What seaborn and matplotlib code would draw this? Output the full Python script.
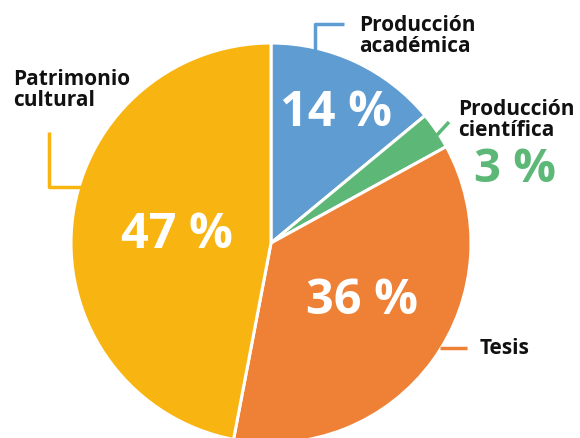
import matplotlib
matplotlib.use("Agg")
import matplotlib.pyplot as plt
import seaborn as sns

sns.set_theme(style="white")
plt.rcParams["font.family"] = ["Open Sans", "DejaVu Sans"]

categories = ["Producción\nacadémica", "Producción\ncientífica", "Tesis", "Patrimonio\ncultural"]
values = [14, 3, 36, 47]
colors = ["#5E9CD2", "#5DB878", "#EF8136", "#F8B512"]

W, H = 580, 439
fig = plt.figure(figsize=(W / 100, H / 100), dpi=100)
ax = fig.add_axes([0, 0, 1, 1])

cx, cy, r = 271, H - 244, 200
ax.pie(values, colors=colors, startangle=90, counterclock=False,
       center=(cx, cy), radius=r,
       wedgeprops=dict(edgecolor="white", linewidth=2.2))
ax.set_xlim(0, W)
ax.set_ylim(0, H)
ax.set_aspect("equal")
ax.axis("off")

def Y(y):
    return H - y

# percentage labels
pct_pos = [(336, 113, "white", 35), (515, 170, colors[1], 34),
           (362, 301, "white", 35), (177, 235, "white", 35)]
for v, (x, y, c, fs) in zip(values, pct_pos):
    ax.text(x, Y(y), f"{v} %", color=c, fontsize=fs,
            fontweight="bold", ha="center", va="center")

# category labels
lab_pos = [(359, 36), (458, 120), (480, 349), (13, 90)]
for lab, (x, y) in zip(categories, lab_pos):
    ax.text(x, Y(y), lab, fontsize=15, fontweight="bold", color="#111111",
            ha="left", va="center", linespacing=1.05)

# leader lines
lw = 2.5
ax.plot([315, 315, 344], [Y(52), Y(25), Y(25)], color=colors[0], lw=lw, solid_capstyle="butt")
ax.plot([437, 449], [Y(136), Y(123)], color=colors[1], lw=lw, solid_capstyle="butt")
ax.plot([440, 467], [Y(349), Y(349)], color=colors[2], lw=lw, solid_capstyle="butt")
ax.plot([49, 49, 84], [Y(133), Y(188), Y(188)], color=colors[3], lw=lw, solid_capstyle="butt")

fig.savefig("out.png", dpi=100)
